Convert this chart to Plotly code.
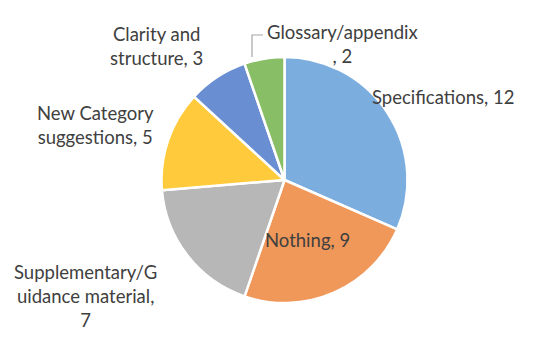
import plotly.graph_objects as go

# feedback categories, in the order the slices are drawn (clockwise from 12 o'clock)
labels = ["Specifications", "Nothing", "Supplementary/Guidance material",
          "New Category suggestions", "Clarity and structure", "Glossary/appendix"]
values = [12, 9, 7, 5, 3, 2]
# wrapped label text as it appears on the chart
label_text = ["Specifications, 12", "Nothing, 9", "Supplementary/G<br>uidance material,<br>7",
              "New Category<br>suggestions, 5", "Clarity and<br>structure, 3", "Glossary/appendix<br>, 2"]
colors = ["#7BAEDF", "#F0975A", "#B7B7B7", "#FFCB3C", "#6A8ED2", "#88BE66"]

W, H = 550, 345
# label block centres in pixels (layout only)
label_pos = [(443, 97), (307, 240), (85, 296), (95, 125), (156, 46), (342, 44)]

fig = go.Figure(go.Pie(
    labels=labels,
    values=values,
    textinfo="none",
    sort=False,
    direction="clockwise",
    rotation=0,
    marker=dict(colors=colors, line=dict(color="white", width=2.5)),
    domain=dict(x=[161.5 / W, 407.5 / W], y=[1 - 303 / H, 1 - 57 / H]),
    showlegend=False,
    hoverinfo="label+value",
))

for txt, (px, py) in zip(label_text, label_pos):
    fig.add_annotation(
        x=px / W, y=1 - py / H, xref="paper", yref="paper",
        text=txt, showarrow=False, xanchor="center", yanchor="middle", align="center",
        font=dict(family="Lato", size=18.5, color="#404040"),
    )

# leader line for the small Glossary slice
fig.add_shape(
    type="path", xref="paper", yref="paper",
    path=f"M {263 / W} {1 - 35 / H} L {252 / W} {1 - 35 / H} L {252 / W} {1 - 57 / H}",
    line=dict(color="#A6A6A6", width=1.2),
)

fig.update_layout(
    width=W, height=H,
    margin=dict(l=0, r=0, t=0, b=0),
    paper_bgcolor="white",
    plot_bgcolor="white",
)

# drop the browser's default body margin so the figure sits at the page corner
fig.write_html("out.html", config={"displayModeBar": False},
               post_script="document.body.style.margin='0';")
